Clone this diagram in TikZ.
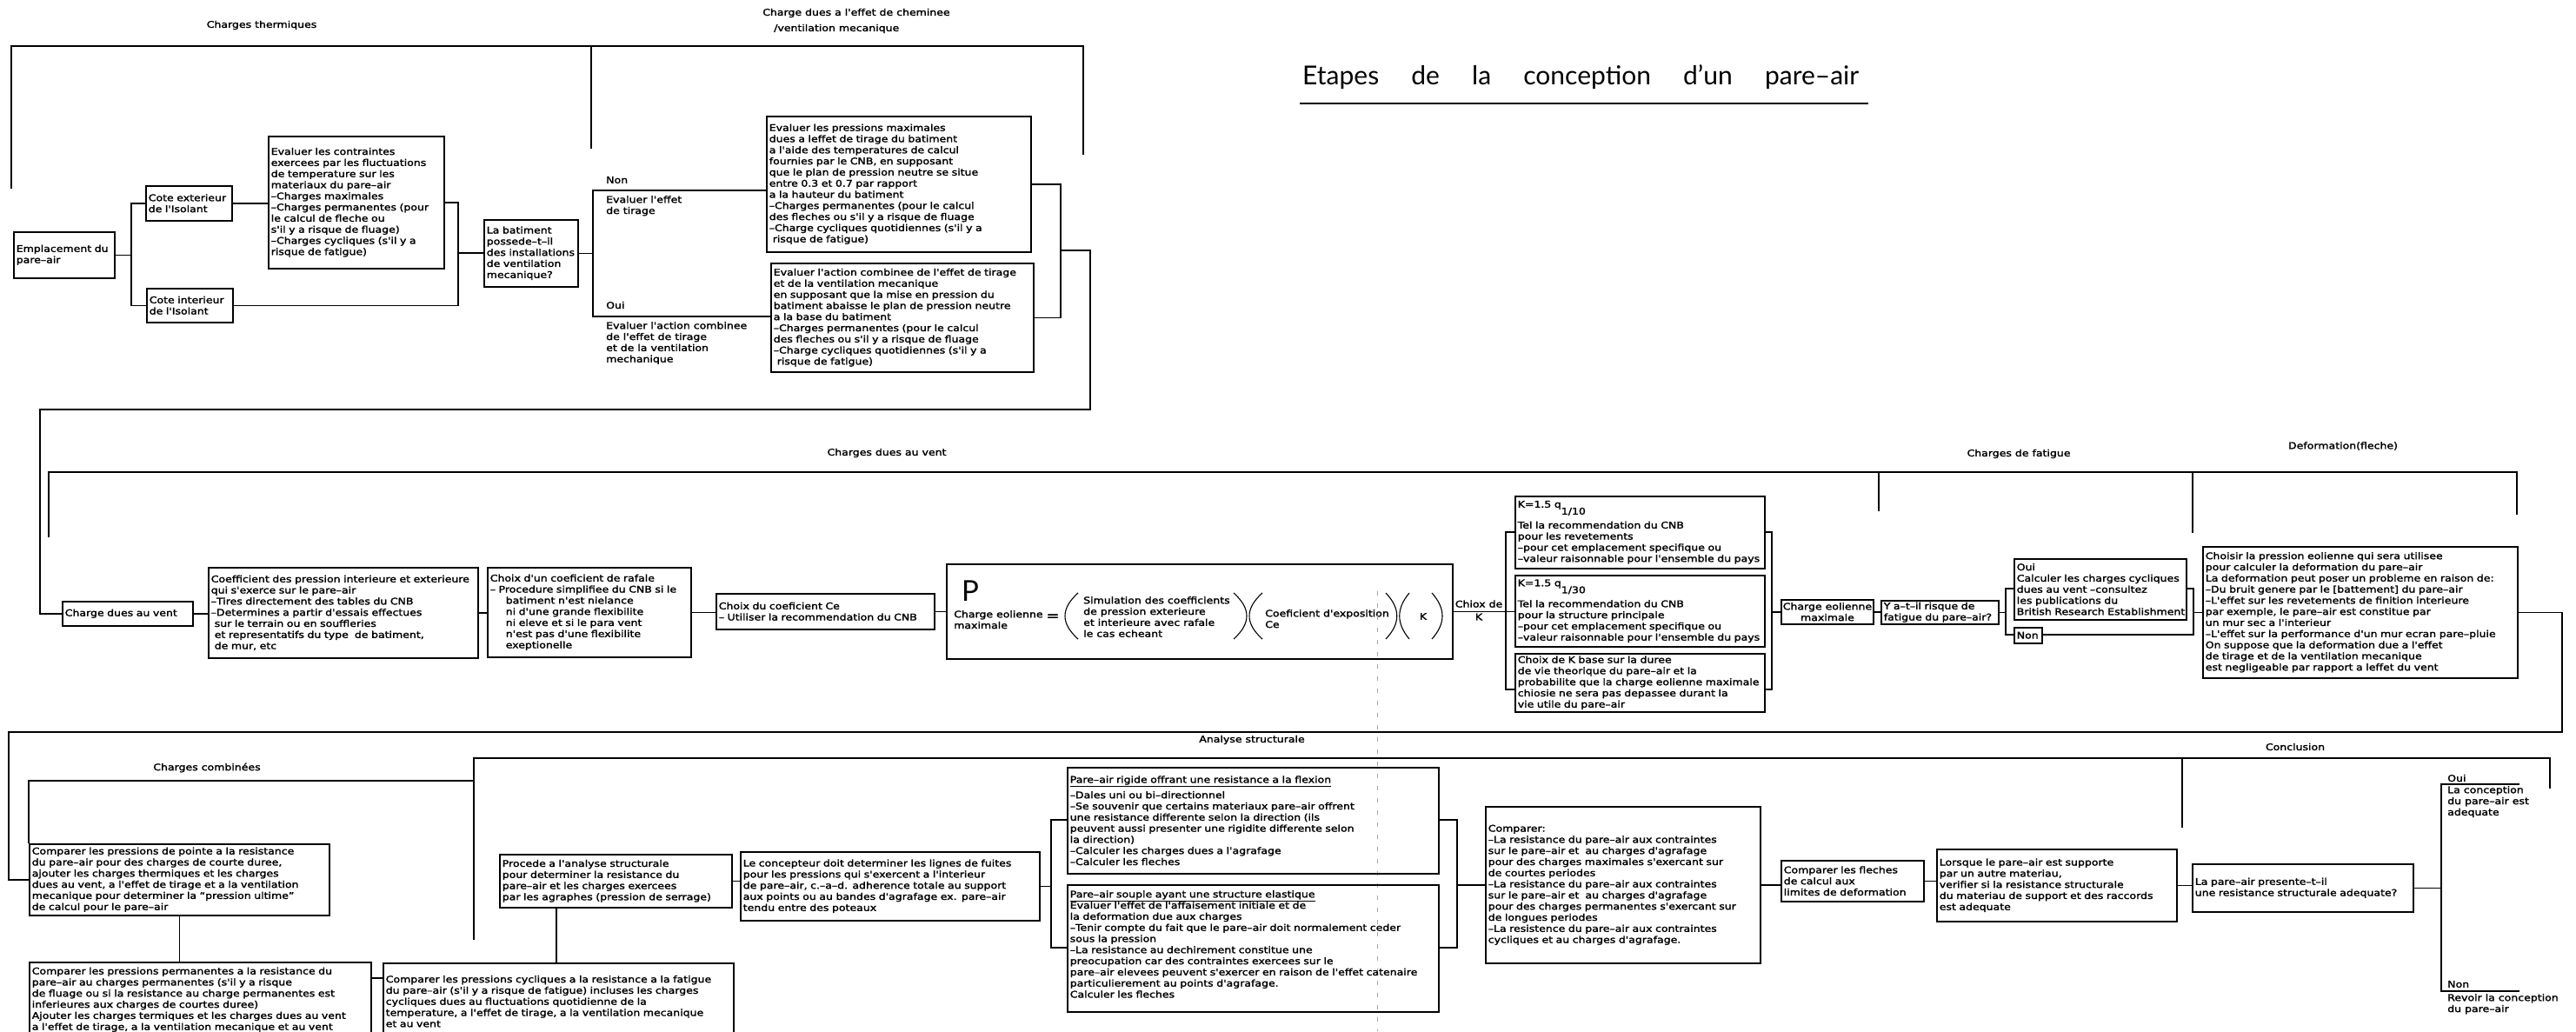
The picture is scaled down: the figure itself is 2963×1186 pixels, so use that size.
\documentclass[tikz,border=0pt]{standalone}
\usepackage{fontspec}
\newfontfamily\cad{DejaVu Sans}[FakeStretch=1.18, FakeBold=2]
\newfontfamily\ttlfont{Lato}
\newcommand{\cadtxt}{\cad\fontsize{10.6}{12.8}\selectfont}
\begin{document}
\begin{tikzpicture}[x=1pt,y=-1pt,
  bx/.style n args={3}{draw, line width=1.5pt, anchor=north west, inner xsep=3pt, inner ysep=2pt,
     font=\cadtxt, align=left, minimum width=#1pt, minimum height=#2pt, text width=#3pt,
     execute at begin node={\rightskip=0pt plus 1fil minus 1000pt\relax}},
  bxc/.style 2 args={draw, line width=1.5pt, anchor=north west, inner sep=2pt, font=\cadtxt,
     align=center, minimum width=#1pt, minimum height=#2pt},
  lbl/.style={inner sep=0pt, align=left, font=\cadtxt},
  ln/.style={line width=1.5pt},
  pline/.style={line width=1.1pt}]
\useasboundingbox[fill=white] (0,0) rectangle (2963,1186);

% ---------------- labels and title
\node[lbl] (lt) at (301,29) {Charges thermiques};
\node[lbl, anchor=west] (lc1) at (877,15) {Charge dues a l'effet de cheminee};
\node[lbl, anchor=west] (lc2) at (890,33) {/ventilation mecanique};
\node[inner sep=0pt, anchor=base west, font=\ttlfont\fontsize{30}{30}\selectfont] (title) at (1498,97) {\makebox[640pt][s]{Etapes de la conception d’un pare–air}};
\coordinate (tu1) at (1495,119); \coordinate (tu2) at (2149,119);
\draw[line width=1.3pt] (tu1) -- (tu2);

% ---------------- top section frame
\coordinate (t1) at (13,217); \coordinate (t2) at (13,53); \coordinate (t3) at (1246,53); \coordinate (t4) at (1246,178);
\coordinate (t5) at (680,53); \coordinate (t6) at (680,171);
\draw[ln] (t1) -- (t2) -- (t3) -- (t4);
\draw[ln] (t5) -- (t6);

% ---------------- top boxes
\node[bx={116}{53}{110}] (emp) at (15,266) {Emplacement du\\pare–air};
\node[bx={99}{40}{93}] (cext) at (167,213) {Cote exterieur\\de l'Isolant};
\node[bx={99}{39}{93}] (cint) at (168,331) {Cote interieur\\de l'Isolant};
\node[bx={202}{152}{196}] (evc) at (308,156) {Evaluer les contraintes\\exercees par les fluctuations\\de temperature sur les\\materiaux du pare–air\\–Charges maximales\\–Charges permanentes (pour\\le calcul de fleche ou\\s'il y a risque de fluage)\\–Charges cycliques (s'il y a\\risque de fatigue)};
\node[bx={108}{77}{102}] (bat) at (556,252) {La batiment\\possede–t–il\\des installations\\de ventilation\\mecanique?};
\node[bx={304}{156}{298}] (ba) at (881,133) {Evaluer les pressions maximales\\dues a leffet de tirage du batiment\\a l'aide des temperatures de calcul\\fournies par le CNB, en supposant\\que le plan de pression neutre se situe\\entre 0.3 et 0.7 par rapport\\a la hauteur du batiment\\–Charges permanentes (pour le calcul\\des fleches ou s'il y a risque de fluage\\–Charge cycliques quotidiennes (s'il y a\\\hspace*{4pt}risque de fatigue)};
\node[bx={302}{125}{296}] (bb) at (886,302) {Evaluer l'action combinee de l'effet de tirage\\et de la ventilation mecanique\\en supposant que la mise en pression du\\batiment abaisse le plan de pression neutre\\a la base du batiment\\–Charges permanentes (pour le calcul\\des fleches ou s'il y a risque de fluage\\–Charge cycliques quotidiennes (s'il y a\\\hspace*{4pt}risque de fatigue)};

\node[lbl, anchor=west] (tnon) at (697,207) {Non};
\node[lbl, anchor=north west] (tnon2) at (697,225) {Evaluer l'effet\\de tirage};
\node[lbl, anchor=west] (toui) at (697,351) {Oui};
\node[lbl, anchor=north west] (toui2) at (697,370) {Evaluer l'action combinee\\de l'effet de tirage\\et de la ventilation\\mechanique};

% ---------------- top connectors
\coordinate (j1) at (151,292);
\draw[ln] (emp.east) -- (emp.east -| j1);
\draw[ln] (cext.west) -| (j1) |- (cint.west);
\draw[ln] (cext.east) -- (cext.east -| evc.west);
\coordinate (j2) at (527,291);
\draw[ln] (evc.east) -| (j2) |- (cint.east);
\draw[ln] (j2) -- (j2 -| bat.west);
\coordinate (no) at (682,219); \coordinate (yes) at (682,364);
\draw[ln] (bat.east) -- (bat.east -| no);
\draw[ln] (ba.west |- no) -- (no) -- (yes) -- (bb.west |- yes);
\coordinate (u1) at (1220,288); \coordinate (u2) at (1254,288); \coordinate (u3) at (1254,471); \coordinate (u4) at (46,471);
\draw[ln] (ba.east) -| (u1) |- (bb.east);

% ---------------- middle section frame
\node[lbl] (lv) at (1020,521) {Charges dues au vent};
\node[lbl] (lf) at (2322,522) {Charges de fatigue};
\node[lbl] (ld) at (2695,513) {Deformation(fleche)};
\coordinate (m1) at (56,618); \coordinate (m2) at (56,543); \coordinate (m3) at (2895,543); \coordinate (m4) at (2895,592);
\coordinate (m5) at (2161,543); \coordinate (m6) at (2161,588); \coordinate (m7) at (2522,543); \coordinate (m8) at (2522,613);
\draw[ln] (m1) -- (m2) -- (m3) -- (m4);
\draw[ln] (m5) -- (m6);
\draw[ln] (m7) -- (m8);

% ---------------- middle boxes
\node[bx={150}{28}{144}] (vent) at (71,691) {Charge dues au vent};
\draw[ln] (u1) -- (u2) -- (u3) -- (u4) |- (vent.west);
\node[bx={310}{104}{304}] (coef) at (239,652) {Coefficient des pression interieure et exterieure\\qui s'exerce sur le pare–air\\–Tires directement des tables du CNB\\–Determines a partir d'essais effectues\\\hspace*{4pt}sur le terrain ou en souffleries\\\hspace*{4pt}et representatifs du type\ \ de batiment,\\\hspace*{4pt}de mur, etc};
\node[bx={234}{103}{228}] (raf) at (560,652) {Choix d'un coeficient de rafale\\– Procedure simplifiee du CNB si le\\\hspace*{18pt}batiment n'est nielance\\\hspace*{18pt}ni d'une grande flexibilite\\\hspace*{18pt}ni eleve et si le para vent\\\hspace*{18pt}n'est pas d'une flexibilite\\\hspace*{18pt}exeptionelle};
\node[bx={251}{41}{245}] (ce) at (823,682) {Choix du coeficient Ce\\– Utiliser la recommendation du CNB};
\node[bx={582}{109}{576}] (pbox) at (1088,648) {};
\node[inner sep=0pt, anchor=base west, font=\ttlfont\fontsize{33}{33}\selectfont] (pP) at (1106,691) {P};
\node[lbl, anchor=north west] (pce) at (1097,702) {Charge eolienne\\maximale};
\node[inner sep=0pt, font=\cad\fontsize{15}{15}\selectfont] (peq) at (1211,710) {=};
\node[lbl, anchor=north west] (psim) at (1246,686) {Simulation des coefficients\\de pression exterieure\\et interieure avec rafale\\le cas echeant};
\node[lbl, anchor=north west] (pexp) at (1455,701) {Coeficient d'exposition\\Ce};
\node[lbl] (pK) at (1637,709) {K};
\draw[pline] (1240,682) .. controls (1220,700) and (1220,717) .. (1240,735);
\draw[pline] (1419,682) .. controls (1439,700) and (1439,717) .. (1419,735);
\draw[pline] (1452,682) .. controls (1432,700) and (1432,717) .. (1452,735);
\draw[pline] (1594,682) .. controls (1611,700) and (1611,717) .. (1594,735);
\draw[pline] (1621,682) .. controls (1606,700) and (1606,717) .. (1621,735);
\draw[pline] (1647,682) .. controls (1663,700) and (1663,717) .. (1647,735);

\node[bx={287}{83}{281}] (k1) at (1742,570) {K=1.5 q\raisebox{-8pt}{1/10}\\[6pt]Tel la recommendation du CNB\\pour les revetements\\–pour cet emplacement specifique ou\\–valeur raisonnable pour l'ensemble du pays};
\node[bx={287}{82}{281}] (k2) at (1742,661) {K=1.5 q\raisebox{-8pt}{1/30}\\[6pt]Tel la recommendation du CNB\\pour la structure principale\\–pour cet emplacement specifique ou\\–valeur raisonnable pour l'ensemble du pays};
\node[bx={287}{67}{281}] (k3) at (1742,751) {Choix de K base sur la duree\\de vie theorique du pare–air et la\\probabilite que la charge eolienne maximale\\chiosie ne sera pas depassee durant la\\vie utile du pare–air};
\node[lbl, align=center] (chk) at (1701,702) {Chiox de\\[2pt]K};
\node[bxc={106}{28}] (cem) at (2048,689) {Charge eolienne\\maximale};
\node[bx={135}{27}{129}] (fat) at (2163,690) {Y a–t–il risque de\\fatigue du pare–air?};
\node[bx={198}{70}{192}] (oui) at (2316,642) {Oui\\Calculer les charges cycliques\\dues au vent –consultez\\les publications du\\British Research Establishment};
\node[bx={32}{18}{26}] (non) at (2316,721) {Non};
\node[bx={362}{151}{356}] (def) at (2533,628) {Choisir la pression eolienne qui sera utilisee\\pour calculer la deformation du pare–air\\La deformation peut poser un probleme en raison de:\\–Du bruit genere par le [battement] du pare–air\\–L'effet sur les revetements de finition interieure\\par exemple, le pare–air est constitue par\\un mur sec a l'interieur\\–L'effet sur la performance d'un mur ecran pare–pluie\\On suppose que la deformation due a l'effet\\de tirage et de la ventilation mecanique\\est negligeable par rapport a leffet du vent};

% ---------------- middle connectors
\draw[ln] (vent.east) -- (vent.east -| coef.west);
\draw[ln] (coef.east) -- (coef.east -| raf.west);
\draw[ln] (raf.east) -- (raf.east -| ce.west);
\draw[ln] (ce.east) -- (ce.east -| pbox.west);
\draw[ln] (pbox.east) -- (pbox.east -| k2.west);
\coordinate (kb1) at (1732,612); \coordinate (kb2) at (1732,793);
\coordinate (kc1) at (2038,612); \coordinate (kc2) at (2038,793);
\draw[ln] (k1.west |- kb1) -- (kb1) -- (kb2) -- (k3.west |- kb2);
\draw[ln] (k1.east |- kc1) -- (kc1) -- (kc2) -- (k3.east |- kc2);
\draw[ln] (kc1 |- cem.west) -- (cem.west);
\draw[ln] (cem.east) -- (cem.east -| fat.west);
\coordinate (fb1) at (2307,677); \coordinate (fb2) at (2307,730);
\coordinate (fc1) at (2523,677); \coordinate (fc2) at (2523,730);
\draw[ln] (fat.east) -- (fat.east -| fb1);
\draw[ln] (oui.west |- fb1) -- (fb1) -- (fb2) -- (non.west |- fb2);
\draw[ln] (oui.east |- fc1) -- (fc1) -- (fc2) -- (non.east |- fc2);
\draw[ln] (fc1 |- def.west) -- (def.west);

% faint fold line
\coordinate (d1) at (1584,680); \coordinate (d2) at (1584,1186);
\draw[gray!70, line width=0.7pt, dash pattern=on 5pt off 9pt] (d1) -- (d2);

% ---------------- bottom section
\node[lbl] (la) at (1440,851) {Analyse structurale};
\node[lbl] (lcl) at (2640,859) {Conclusion};
\node[lbl] (lcc) at (238,883) {Charges combinées};
\coordinate (b1) at (545,1081); \coordinate (b2) at (545,872); \coordinate (b3) at (2933,872); \coordinate (b4) at (2933,907);
\coordinate (b5) at (2510,872); \coordinate (b6) at (2510,952);
\draw[ln] (b1) -- (b2) -- (b3) -- (b4);
\draw[ln] (b5) -- (b6);

\node[bx={345}{82}{339}] (cp1) at (33,970) {Comparer les pressions de pointe a la resistance\\du pare–air pour des charges de courte duree,\\ajouter les charges thermiques et les charges\\dues au vent, a l'effet de tirage et a la ventilation\\mecanique pour determiner la “pression ultime”\\de calcul pour le pare–air};
\node[bx={393}{86}{387}] (cp2) at (33,1106) {Comparer les pressions permanentes a la resistance du\\pare–air au charges permanentes (s'il y a risque\\de fluage ou si la resistance au charge permanentes est\\inferieures aux charges de courtes duree)\\Ajouter les charges termiques et les charges dues au vent\\a l'effet de tirage, a la ventilation mecanique et au vent};
\node[bx={403}{88}{397}] (cp3) at (440,1107) {Comparer les pressions cycliques a la resistance a la fatigue\\du pare–air (s'il y a risque de fatigue) incluses les charges\\cycliques dues au fluctuations quotidienne de la\\temperature, a l'effet de tirage, a la ventilation mecanique\\et au vent};
\node[bx={267}{61}{261}] (proc) at (574,982) {Procede a l'analyse structurale\\pour determiner la resistance du\\pare–air et les charges exercees\\par les agraphes (pression de serrage)};
\node[bx={344}{79}{338}] (conc) at (851,979) {Le concepteur doit determiner les lignes de fuites\\pour les pressions qui s'exercent a l'interieur\\de pare–air, c.–a–d. adherence totale au support\\aux points ou au bandes d'agrafage ex. pare–air\\tendu entre des poteaux};
\node[bx={427}{122}{421}] (rig) at (1227,882) {\underline{Pare–air rigide offrant une resistance a la flexion}\\[5pt]–Dales uni ou bi–directionnel\\–Se souvenir que certains materiaux pare–air offrent\\une resistance differente selon la direction (ils\\peuvent aussi presenter une rigidite differente selon\\la direction)\\–Calculer les charges dues a l'agrafage\\–Calculer les fleches};
\node[bx={427}{146}{421}] (soup) at (1227,1017) {\underline{Pare–air souple ayant une structure elastique}\\Evaluer l'effet de l'affaisement initiale et de\\la deformation due aux charges\\–Tenir compte du fait que le pare–air doit normalement ceder\\sous la pression\\–La resistance au dechirement constitue une\\preocupation car des contraintes exercees sur le\\pare–air elevees peuvent s'exercer en raison de l'effet catenaire\\particulierement au points d'agrafage.\\Calculer les fleches\\[-3pt]\mbox{}};
\node[bx={316}{180}{310}] (comp) at (1708,927) {Comparer:\\–La resistance du pare–air aux contraintes\\sur le pare–air et\ \ au charges d'agrafage\\pour des charges maximales s'exercant sur\\de courtes periodes\\–La resistance du pare–air aux contraintes\\sur le pare–air et\ \ au charges d'agrafage\\pour des charges permanentes s'exercant sur\\de longues periodes\\–La resistence du pare–air aux contraintes\\cycliques et au charges d'agrafage.};
\node[bx={164}{47}{158}] (fl) at (2048,989) {Comparer les fleches\\de calcul aux\\limites de deformation};
\node[bx={276}{83}{270}] (lor) at (2227,976) {Lorsque le pare–air est supporte\\par un autre materiau,\\verifier si la resistance structurale\\du materiau de support et des raccords\\est adequate};
\node[bx={254}{55}{248}] (q) at (2521,993) {La pare–air presente–t–il\\une resistance structurale adequate?};

\node[lbl, anchor=west] (coui) at (2815,895) {Oui};
\node[lbl, anchor=north west] (coui2) at (2815,904) {La conception\\du pare–air est\\adequate};
\node[lbl, anchor=west] (cnon) at (2815,1132) {Non};
\node[lbl, anchor=north west] (cnon2) at (2815,1143) {Revoir la conception\\du pare–air};

% ---------------- bottom connectors
\coordinate (r1) at (2947,704); \coordinate (r2) at (2947,842); \coordinate (r3) at (10,842);
\draw[ln] (def.east) -- (def.east -| r1) -- (r2) -- (r3) |- (cp1.west);
\coordinate (c1) at (33,898); \coordinate (c2) at (545,898);
\draw[ln] (cp1.north west) -- (c1) -- (c2);
\draw[ln] (cp1.south) -- (cp1.south |- cp2.north);
\coordinate (cj) at (0,1125);
\draw[ln] (cp2.east |- cj) -- (cp3.west |- cj);
\coordinate (pj) at (640,0);
\draw[ln] (proc.south -| pj) -- (cp3.north -| pj);
\draw[ln] (proc.east) -- (proc.east -| conc.west);
\coordinate (rb1) at (1209,943); \coordinate (rb2) at (1209,1090);
\coordinate (rc1) at (1676,943); \coordinate (rc2) at (1676,1090);
\draw[ln] (conc.east) -- (conc.east -| rb1);
\draw[ln] (rig.west |- rb1) -- (rb1) -- (rb2) -- (soup.west |- rb2);
\draw[ln] (rig.east |- rc1) -- (rc1) -- (rc2) -- (soup.east |- rc2);
\draw[ln] (rc1 |- comp.west) -- (comp.west);
\draw[ln] (comp.east) -- (comp.east -| fl.west);
\draw[ln] (fl.east) -- (fl.east -| lor.west);
\draw[ln] (lor.east) -- (lor.east -| q.west);
\coordinate (qo) at (2808,902); \coordinate (qn) at (2808,1140);
\coordinate (qo2) at (2898,902); \coordinate (qn2) at (2898,1140);
\draw[ln] (q.east) -- (q.east -| qo);
\draw[ln] (qo2) -- (qo) -- (qn) -- (qn2);
\end{tikzpicture}
\end{document}
